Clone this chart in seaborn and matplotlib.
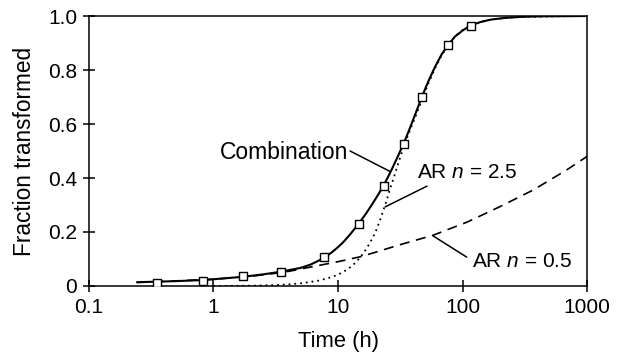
import numpy as np
import pandas as pd
import matplotlib
matplotlib.use('Agg')
import matplotlib.pyplot as plt
from matplotlib.ticker import NullLocator
import seaborn as sns

sns.set_style('ticks')
plt.rcParams['font.family'] = ['Liberation Sans', 'DejaVu Sans']
plt.rcParams['mathtext.fontset'] = 'custom'
plt.rcParams['mathtext.rm'] = 'Liberation Sans'
plt.rcParams['mathtext.it'] = 'Liberation Sans:italic'
plt.rcParams['text.color'] = 'black'
plt.rcParams['axes.labelcolor'] = 'black'
plt.rcParams['xtick.color'] = 'black'
plt.rcParams['ytick.color'] = 'black'

# measured points (squares)
t_meas = [0.35, 0.82, 1.72, 3.48, 7.76, 14.8, 23.4, 33.7, 47, 76.6, 116]
f_meas = [0.010, 0.017, 0.036, 0.052, 0.106, 0.230, 0.369, 0.525, 0.700, 0.891, 0.964]

# combination (solid)
t_comb = [0.243, 0.35, 0.5, 0.82, 1.0, 1.72, 2.5, 3.48, 5, 6, 7.76, 9, 10, 11, 12.5, 14.8,
          17, 19, 21, 23.4, 26, 29, 33.7, 37, 41, 47, 53, 60, 68, 76.6, 87, 100, 116, 140,
          170, 220, 300, 450, 1000]
f_comb = [0.014, 0.016, 0.018, 0.022, 0.025, 0.034, 0.043, 0.053, 0.067, 0.079, 0.104, 0.126,
          0.144, 0.162, 0.191, 0.233, 0.272, 0.306, 0.338, 0.375, 0.416, 0.462, 0.528, 0.574,
          0.627, 0.699, 0.757, 0.811, 0.858, 0.893, 0.924, 0.946, 0.965, 0.978, 0.987, 0.993,
          0.997, 0.999, 1.0]

# AR n = 0.5 (dashed)
t_n05 = [0.243, 0.5, 1, 2, 3.4, 4.1, 6, 10, 15, 20, 31, 58, 108, 200, 371, 687, 1000]
f_n05 = [0.013, 0.019, 0.025, 0.036, 0.049, 0.055, 0.070, 0.090, 0.108, 0.125, 0.152, 0.188,
         0.236, 0.294, 0.356, 0.430, 0.480]

# AR n = 2.5 (dotted)
t_n25 = [1, 2, 3, 4, 5, 6, 7, 8, 9, 10, 11, 12, 13, 14, 15, 16, 17, 18, 19, 20, 21, 22, 23,
         24.5, 26.2, 28, 30, 33.5, 37, 41, 47, 53, 60, 68, 77, 87, 100, 116, 140, 170, 220,
         300, 1000]
f_n25 = [0.0, 0.001, 0.003, 0.006, 0.010, 0.015, 0.020, 0.027, 0.034, 0.042, 0.052, 0.063,
         0.075, 0.089, 0.105, 0.122, 0.140, 0.159, 0.179, 0.200, 0.225, 0.250, 0.277, 0.315,
         0.360, 0.400, 0.445, 0.512, 0.566, 0.616, 0.688, 0.749, 0.805, 0.855, 0.892, 0.924,
         0.948, 0.965, 0.978, 0.987, 0.993, 0.997, 1.0]

comb = pd.DataFrame({'t': t_comb, 'f': f_comb})
n05 = pd.DataFrame({'t': t_n05, 'f': f_n05})
n25 = pd.DataFrame({'t': t_n25, 'f': f_n25})
meas = pd.DataFrame({'t': t_meas, 'f': f_meas})

fig = plt.figure(figsize=(6.21, 3.64), dpi=100)
ax = fig.add_axes([0.1433, 0.2143, 0.802, 0.7417])

sns.lineplot(data=n25, x='t', y='f', ax=ax, color='black', lw=1.3, linestyle=(0, (1, 2.2)))
sns.lineplot(data=n05, x='t', y='f', ax=ax, color='black', lw=1.2, linestyle=(0, (6, 4)))
sns.lineplot(data=comb, x='t', y='f', ax=ax, color='black', lw=1.5)
sns.scatterplot(data=meas, x='t', y='f', ax=ax, marker='s', s=30, facecolor='white',
                edgecolor='black', linewidth=1.0, zorder=5)

ax.set_xscale('log')
ax.set_xlim(0.1, 1000)
ax.set_ylim(0, 1)
ax.set_xticks([0.1, 1, 10, 100, 1000])
ax.set_xticklabels(['0.1', '1', '10', '100', '1000'])
ax.xaxis.set_minor_locator(NullLocator())
ax.set_yticks([0, 0.2, 0.4, 0.6, 0.8, 1.0])
ax.set_yticklabels(['0', '0.2', '0.4', '0.6', '0.8', '1.0'])
ax.tick_params(direction='inout', length=9, width=1.1, labelsize=15, pad=4, colors='black')
for sp in ax.spines.values():
    sp.set_linewidth(1.1)
    sp.set_color('black')
    sp.set_visible(True)

ax.set_xlabel('Time (h)', fontsize=15.8, labelpad=10)
ax.set_ylabel('Fraction transformed', fontsize=16.3, labelpad=9)

# labels with leader lines
lk = dict(arrowstyle='-', color='black', lw=1.1, shrinkA=0, shrinkB=0)
ax.text(12.0, 0.496, 'Combination', fontsize=16.5, ha='right', va='center')
ax.annotate('', xy=(26, 0.425), xytext=(12.5, 0.50), arrowprops=lk)
ax.text(43, 0.419, 'AR $\\it{n}$ = 2.5', fontsize=15, ha='left', va='center')
ax.annotate('', xy=(23.9, 0.293), xytext=(51.9, 0.37), arrowprops=lk)
ax.text(119, 0.089, 'AR $\\it{n}$ = 0.5', fontsize=15, ha='left', va='center')
ax.annotate('', xy=(58.3, 0.185), xytext=(108, 0.107), arrowprops=lk)

fig.savefig('out.png', dpi=100)
